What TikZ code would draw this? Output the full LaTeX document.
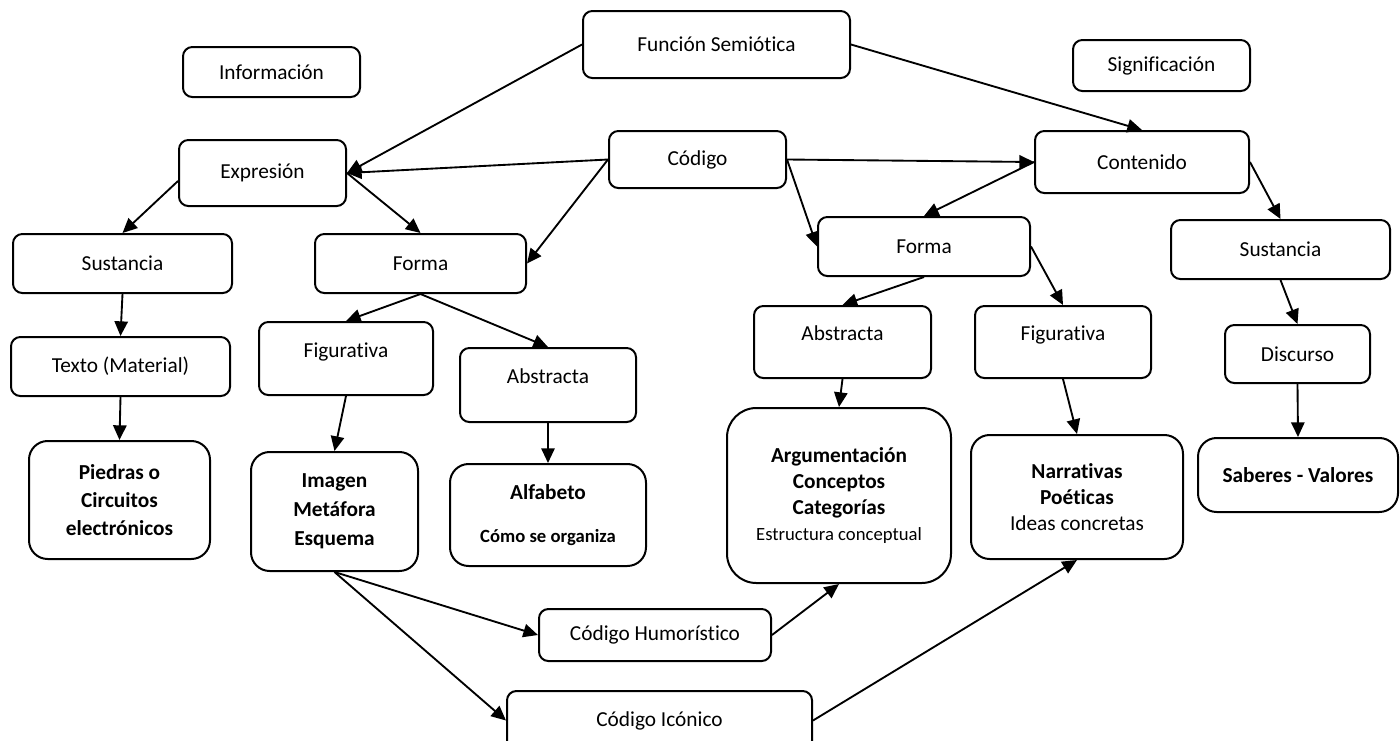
\documentclass[tikz,border=0pt]{standalone}
\usepackage{fontspec}
\setmainfont{Carlito}[Ligatures={NoCommon}]
\usetikzlibrary{arrows.meta}

% \bx[options]{name}{x1}{y1}{x2}{y2}{text}: rounded box spanning the given corners
\newcommand\bx[7][]{%
  \pgfmathsetmacro\bcx{(#3+#5)/2}%
  \pgfmathsetmacro\bcy{(#4+#6)/2}%
  \pgfmathsetmacro\boxw{(#5-#3)*0.75}%
  \pgfmathsetmacro\boxh{(#6-#4)*0.75}%
  \node[box,#1,minimum width=\boxw pt,minimum height=\boxh pt] (#2) at (\bcx,\bcy) {#7};%
}

\begin{document}
\begin{tikzpicture}[x=0.75pt,y=-0.75pt,
  box/.style={draw,line width=1.5pt,rounded corners=7pt,inner sep=0pt,
    align=center,font=\fontsize{16}{20}\selectfont},
  bigbox/.style={rounded corners=14pt,font=\bfseries\fontsize{16}{21}\selectfont},
  raised/.style={text depth=13pt},
  link/.style={line width=1.4pt,-{Triangle[length=11pt,width=10pt]}},
]
\useasboundingbox (0,0) rectangle (1400,740);

% top level
\bx{fs}{583}{11}{850}{78}{Función Semiótica}
\bx{info}{183}{47}{360}{97}{Información}
\bx{sig}{1073}{40}{1250}{91}{Significación}
\bx{expr}{179}{140}{346}{206}{Expresión}
\bx{cod}{609}{131}{786}{188}{Código}
\bx{cont}{1035}{131}{1249}{193}{Contenido}

% second level
\bx{sustL}{13}{234}{232}{293}{Sustancia}
\bx{formaL}{315}{234}{526}{293}{Forma}
\bx{formaR}{818}{217}{1030}{276}{Forma}
\bx{sustR}{1171}{220}{1390}{279}{Sustancia}

% third level
\bx{texto}{11}{337}{230}{396}{Texto (Material)}
\bx[raised]{figL}{259}{322}{433}{395}{Figurativa}
\bx[raised]{absL}{460}{348}{636}{422}{Abstracta}
\bx[raised]{absR}{754}{306}{931}{378}{Abstracta}
\bx[raised]{figR}{975}{306}{1151}{378}{Figurativa}
\bx{disc}{1225}{325}{1370}{383}{Discurso}

% leaves
\bx[bigbox]{piedras}{29}{441}{210}{559}{Piedras o\\Circuitos\\electrónicos}
\bx[bigbox,font=\bfseries\fontsize{16}{21.75}\selectfont]{imagen}{251}{452}{418}{571}{Imagen\\Metáfora\\Esquema}
\bx[bigbox]{alfa}{450}{464}{646}{566}{Alfabeto\\[11pt]{\fontsize{14}{15}\selectfont Cómo se organiza}}
\bx[bigbox,rounded corners=22pt,font=\bfseries\fontsize{16}{19.5}\selectfont]{argu}{727}{408}{951}{583}{Argumentación\\Conceptos\\Categorías\\{\mdseries\fontsize{14}{15}\selectfont Estructura conceptual}}
\bx[bigbox,font=\bfseries\fontsize{16}{19.8}\selectfont]{narr}{971}{435}{1183}{559}{Narrativas\\Poéticas\\{\mdseries Ideas concretas}}
\bx[bigbox]{saber}{1198}{438}{1398}{512}{Saberes - Valores}

% codes at the bottom
\bx{humor}{539}{609}{771}{661}{Código Humorístico}
\bx{icon}{507}{691}{812}{750}{Código Icónico}

% connectors
\draw[link] (fs.west) -- (expr.east);
\draw[link] (fs.east) -- (cont.north);
\draw[link] (cod.west) -- (expr.east);
\draw[link] (cod.west) -- (formaL.east);
\draw[link] (cod.east) -- (cont.west);
\draw[link] (cod.east) -- (formaR.west);
\draw[link] (cont.west) -- (formaR.north);
\draw[link] (cont.east) -- (sustR.north);
\draw[link] ([yshift=-6pt]expr.west) -- (sustL.north);
\draw[link] (expr.east) -- (formaL.north);
\draw[link] (sustL.south) -- (texto.north);
\draw[link] (formaL.south) -- (figL.north);
\draw[link] (formaL.south) -- (absL.north);
\draw[link] (texto.south) -- (piedras.north);
\draw[link] (figL.south) -- (imagen.north);
\draw[link] (absL.south) -- (alfa.north);
\draw[link] (imagen.south) -- (humor.west);
\draw[link] (imagen.south) -- (icon.west);
\draw[link] (humor.east) -- (argu.south);
\draw[link] (icon.east) -- (narr.south);
\draw[link] (formaR.south) -- (absR.north);
\draw[link] (formaR.east) -- (figR.north);
\draw[link] (sustR.south) -- (disc.north);
\draw[link] (absR.south) -- (argu.north);
\draw[link] (figR.south) -- (narr.north);
\draw[link] (disc.south) -- (saber.north);
\end{tikzpicture}
\end{document}
